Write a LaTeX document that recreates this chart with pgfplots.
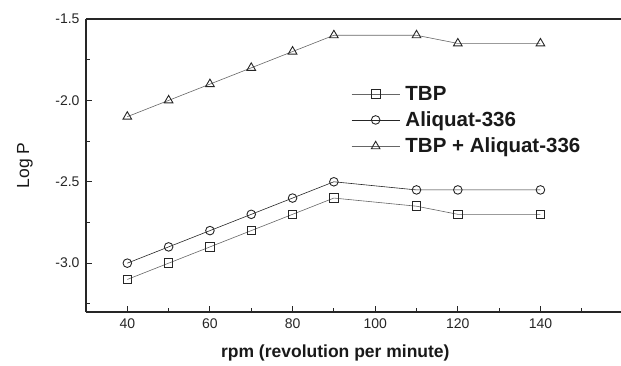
\documentclass[border=0pt]{standalone}
\usepackage{pgfplots}
\pgfplotsset{compat=1.18}
\usepackage{fontspec}
\setmainfont{Liberation Sans}
\begin{document}
\begin{tikzpicture}[x=1pt,y=1pt]
\begin{axis}[
  at={(0,0)}, anchor=south west,
  scale only axis, width=535pt, height=293pt,
  xmin=30, xmax=159.5, ymin=-3.3, ymax=-1.5,
  axis x line=box, axis y line=left,
  axis line style={line width=1.3pt, color=black!85, -},
  xtick={40,60,...,140}, minor xtick={50,70,...,130,150},
  ytick={-3.0,-2.5,-2.0,-1.5}, minor ytick={-3.25,-2.75,-2.25,-1.75},
  xtick pos=bottom, ytick pos=left,
  tick align=inside,
  major tick length=6pt, minor tick length=4pt,
  tick style={line width=0.9pt, color=black!85},
  /pgf/number format/assume math mode=true,
  y tick label style={xshift=-3pt, /pgf/number format/.cd, fixed, fixed zerofill, precision=1},
  ticklabel style={font=\fontsize{14}{16}\selectfont, color=black!85},
  x tick label style={yshift=-3pt},
  xlabel={\textbf{rpm (revolution per minute)}},
  ylabel={Log P},
  label style={font=\fontsize{17.5}{20}\selectfont, color=black!90},
  xlabel style={at={(axis description cs:0.466,-0.14)}, anchor=center},
  ylabel style={at={(axis description cs:-0.114,0.5)}, anchor=center, rotate=0},
  legend style={draw=none, fill=none, at={(0.49,0.78)}, anchor=north west,
    font=\fontsize{20.5}{23}\selectfont\bfseries, row sep=9pt,
    nodes={inner sep=0.5pt, color=black!90}},
  legend cell align=left,
  legend image code/.code={\draw[mark repeat=2, mark phase=2] plot coordinates {(0pt,0pt) (24pt,0pt) (48pt,0pt)};},
  every axis plot/.append style={line width=0.6pt, mark size=4.3pt, mark options={solid, fill=white, line width=0.9pt, draw=black!85}},
]
\addplot[color=black!60, mark=square] coordinates {
 (40,-3.1) (50,-3.0) (60,-2.9) (70,-2.8) (80,-2.7) (90,-2.6) (110,-2.65) (120,-2.7) (140,-2.7)};
\addlegendentry{\hspace{5pt}TBP}
\addplot[color=black!85, mark=o] coordinates {
 (40,-3.0) (50,-2.9) (60,-2.8) (70,-2.7) (80,-2.6) (90,-2.5) (110,-2.55) (120,-2.55) (140,-2.55)};
\addlegendentry{\hspace{5pt}Aliquat-336}
\addplot[color=black!60, mark=triangle, mark size=5pt] coordinates {
 (40,-2.1) (50,-2.0) (60,-1.9) (70,-1.8) (80,-1.7) (90,-1.6) (110,-1.6) (120,-1.65) (140,-1.65)};
\addlegendentry{\hspace{5pt}TBP + Aliquat-336}
\end{axis}
\pgfresetboundingbox
\path[use as bounding box] (-86pt,-53pt) rectangle (535pt,312pt);
\end{tikzpicture}
\end{document}
